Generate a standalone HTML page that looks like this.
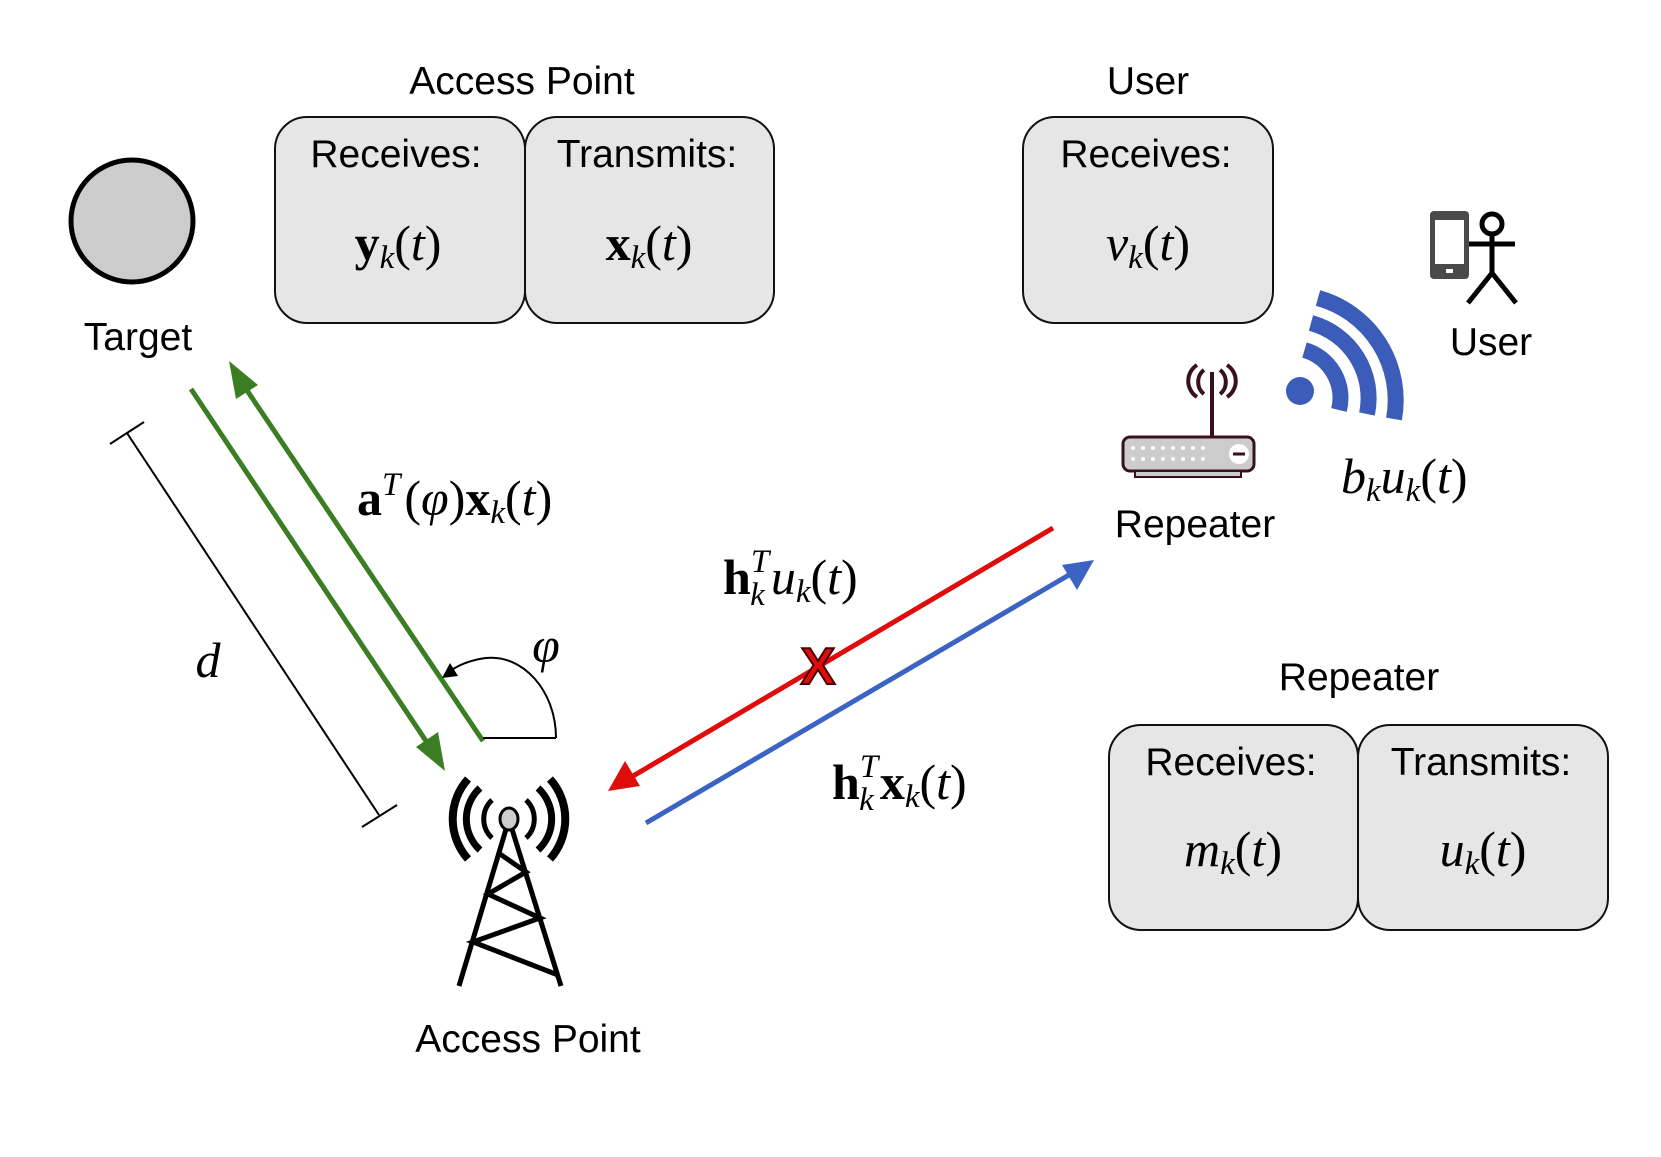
<!DOCTYPE html>
<html><head><meta charset="utf-8"><style>
html,body{margin:0;padding:0;background:#fff;}
svg{display:block;}
.s{font-family:"Liberation Sans",Arial,sans-serif;font-size:39px;fill:#000;}
.m{font-family:"Liberation Serif","DejaVu Serif",serif;font-size:50px;fill:#000;}
.i{font-style:italic;}
.b{font-weight:bold;}
.sub{font-style:italic;font-size:33px;}
</style></head><body>
<svg width="1661" height="1157" viewBox="0 0 1661 1157" xmlns="http://www.w3.org/2000/svg">

<text class="s" x="522" y="94" text-anchor="middle">Access Point</text>
<text class="s" x="1148" y="94" text-anchor="middle">User</text>
<text class="s" x="1359" y="690" text-anchor="middle">Repeater</text>

<rect x="275" y="117" width="250" height="206" rx="32" fill="#e6e6e6" stroke="#111" stroke-width="2"/>
<rect x="525" y="117" width="249" height="206" rx="32" fill="#e6e6e6" stroke="#111" stroke-width="2"/>
<text class="s" x="396" y="167" text-anchor="middle">Receives:</text>
<text class="s" x="647" y="167" text-anchor="middle">Transmits:</text>
<text class="m" x="398" y="260" text-anchor="middle"><tspan class="b">y</tspan><tspan class="sub" dy="8">k</tspan><tspan dy="-8">(</tspan><tspan class="i">t</tspan>)</text>
<text class="m" x="649" y="260" text-anchor="middle"><tspan class="b">x</tspan><tspan class="sub" dy="8">k</tspan><tspan dy="-8">(</tspan><tspan class="i">t</tspan>)</text>

<rect x="1023" y="117" width="250" height="206" rx="32" fill="#e6e6e6" stroke="#111" stroke-width="2"/>
<text class="s" x="1146" y="167" text-anchor="middle">Receives:</text>
<text class="m" x="1148" y="260" text-anchor="middle"><tspan class="i">v</tspan><tspan class="sub" dy="8">k</tspan><tspan dy="-8">(</tspan><tspan class="i">t</tspan>)</text>

<rect x="1109" y="725" width="249" height="205" rx="32" fill="#e6e6e6" stroke="#111" stroke-width="2"/>
<rect x="1358" y="725" width="250" height="205" rx="32" fill="#e6e6e6" stroke="#111" stroke-width="2"/>
<text class="s" x="1231" y="775" text-anchor="middle">Receives:</text>
<text class="s" x="1481" y="775" text-anchor="middle">Transmits:</text>
<text class="m" x="1233" y="866" text-anchor="middle"><tspan class="i">m</tspan><tspan class="sub" dy="8">k</tspan><tspan dy="-8">(</tspan><tspan class="i">t</tspan>)</text>
<text class="m" x="1483" y="866" text-anchor="middle"><tspan class="i">u</tspan><tspan class="sub" dy="8">k</tspan><tspan dy="-8">(</tspan><tspan class="i">t</tspan>)</text>

<circle cx="132" cy="221" r="61" fill="#cccccc" stroke="#000" stroke-width="5"/>
<text class="s" x="138" y="350" text-anchor="middle">Target</text>

<line x1="127" y1="433" x2="379" y2="815" stroke="#000" stroke-width="2"/>
<line x1="110" y1="444" x2="144" y2="422" stroke="#000" stroke-width="2"/>
<line x1="362" y1="827" x2="397" y2="805" stroke="#000" stroke-width="2"/>
<text class="m i" x="208" y="677" text-anchor="middle">d</text>

<line x1="191" y1="389" x2="432" y2="750" stroke="#3a7d22" stroke-width="5"/>
<polygon points="445,771 416,747 438,732" fill="#3a7d22"/>
<line x1="483" y1="741" x2="240" y2="380" stroke="#3a7d22" stroke-width="5"/>
<polygon points="229,361 258,385 236,399" fill="#3a7d22"/>
<text class="m" x="357" y="515"><tspan class="b">a</tspan><tspan class="i" font-size="33" dy="-20">T</tspan><tspan dx="4" dy="20">(</tspan><tspan class="i">φ</tspan>)<tspan class="b">x</tspan><tspan class="sub" dy="8">k</tspan><tspan dy="-8">(</tspan><tspan class="i">t</tspan>)</text>

<line x1="483" y1="738" x2="556" y2="738" stroke="#000" stroke-width="2"/>
<path d="M556,738 C556,690 522,654 486,658 C470,660 456,666 446,674" fill="none" stroke="#000" stroke-width="2"/>
<polygon points="442,678 450,663 458,676" fill="#000"/>
<text class="m i" x="546" y="662" text-anchor="middle">φ</text>

<g fill="none" stroke="#000" stroke-linecap="butt">
<path d="M492,800 A26,26 0 0 0 492,838" stroke-width="5"/>
<path d="M526,800 A26,26 0 0 1 526,838" stroke-width="5"/>
<path d="M480,788 A42,42 0 0 0 480,850" stroke-width="7"/>
<path d="M538,788 A42,42 0 0 1 538,850" stroke-width="7"/>
<path d="M468,779 A60,60 0 0 0 468,859" stroke-width="8"/>
<path d="M550,779 A60,60 0 0 1 550,859" stroke-width="8"/>
<path d="M507,826 L459,986 M511,826 L561,986" stroke-width="5"/>
<polyline points="500,854 526,872 488,894 540,918 473,942 558,975" stroke-width="5" stroke-linejoin="miter"/>
</g>
<ellipse cx="509" cy="819" rx="9" ry="11" fill="#cccccc" stroke="#000" stroke-width="3"/>
<text class="s" x="528" y="1052" text-anchor="middle">Access Point</text>

<line x1="1053" y1="528" x2="628" y2="779" stroke="#e00b0b" stroke-width="5"/>
<polygon points="608,791 625,761 640,786" fill="#e00b0b"/>
<line x1="646" y1="823" x2="1074" y2="572" stroke="#3b63c4" stroke-width="5"/>
<polygon points="1094,560 1077,590 1062,565" fill="#3b63c4"/>
<text x="818" y="684" text-anchor="middle" font-family="Liberation Sans,Arial,sans-serif" font-weight="bold" font-size="52" fill="#e00b0b" stroke="#4a0000" stroke-width="2">X</text>

<text class="m" x="723" y="594"><tspan class="b">h</tspan><tspan class="i" font-size="33" dy="-22">T</tspan><tspan class="sub" dx="-19" dy="33">k</tspan><tspan class="i" dx="6" dy="-11">u</tspan><tspan class="sub" dy="8">k</tspan><tspan dy="-8">(</tspan><tspan class="i">t</tspan>)</text>
<text class="m" x="832" y="799"><tspan class="b">h</tspan><tspan class="i" font-size="33" dy="-22">T</tspan><tspan class="sub" dx="-19" dy="33">k</tspan><tspan class="b" dx="6" dy="-11">x</tspan><tspan class="sub" dy="8">k</tspan><tspan dy="-8">(</tspan><tspan class="i">t</tspan>)</text>

<g stroke="#3a1020" fill="none">
<line x1="1212" y1="372" x2="1212" y2="437" stroke-width="4"/>
<path d="M1204,370 A12,14 0 0 0 1204,394" stroke-width="4"/>
<path d="M1220,370 A12,14 0 0 1 1220,394" stroke-width="4"/>
<path d="M1197,365 A19,19 0 0 0 1197,397" stroke-width="4"/>
<path d="M1227,365 A19,19 0 0 1 1227,397" stroke-width="4"/>
<rect x="1123" y="437" width="131" height="34" rx="7" fill="#cccccc" stroke-width="3"/>
<rect x="1135" y="471" width="106" height="6" fill="#cccccc" stroke-width="2"/>
</g>
<g fill="#fff">
<circle cx="1133" cy="448" r="2"/><circle cx="1143" cy="448" r="2"/><circle cx="1153" cy="448" r="2"/><circle cx="1163" cy="448" r="2"/><circle cx="1173" cy="448" r="2"/><circle cx="1183" cy="448" r="2"/><circle cx="1193" cy="448" r="2"/><circle cx="1203" cy="448" r="2"/>
<circle cx="1133" cy="459" r="2"/><circle cx="1143" cy="459" r="2"/><circle cx="1153" cy="459" r="2"/><circle cx="1163" cy="459" r="2"/><circle cx="1173" cy="459" r="2"/><circle cx="1183" cy="459" r="2"/><circle cx="1193" cy="459" r="2"/><circle cx="1203" cy="459" r="2"/>
<circle cx="1239" cy="454" r="10"/>
</g>
<line x1="1233" y1="454" x2="1245" y2="454" stroke="#3a1020" stroke-width="3"/>
<text class="s" x="1195" y="537" text-anchor="middle">Repeater</text>

<circle cx="1300" cy="391" r="14" fill="#3b5cb8"/>
<g fill="none" stroke="#3b5cb8" stroke-width="16">
<path d="M1304.5,350 A50,50 0 0 1 1339,410"/>
<path d="M1311,323 A78,78 0 0 1 1367,414"/>
<path d="M1318,298 A106,106 0 0 1 1394,419"/>
</g>

<rect x="1430" y="211" width="39" height="68" rx="4" fill="#4a4a4a"/>
<rect x="1435" y="220" width="29" height="44" fill="#fff"/>
<rect x="1446" y="269" width="7" height="4" fill="#fff"/>
<g stroke="#000" stroke-width="5" fill="none">
<circle cx="1492" cy="224" r="10"/>
<line x1="1469" y1="244" x2="1515" y2="244"/>
<line x1="1492" y1="234" x2="1492" y2="273"/>
<polyline points="1468,303 1492,273 1516,303"/>
</g>
<text class="s" x="1491" y="355" text-anchor="middle">User</text>
<text class="m" x="1341" y="493"><tspan class="i">b</tspan><tspan class="sub" dy="8">k</tspan><tspan class="i" dy="-8">u</tspan><tspan class="sub" dy="8">k</tspan><tspan dy="-8">(</tspan><tspan class="i">t</tspan>)</text>
</svg>
</body></html>
